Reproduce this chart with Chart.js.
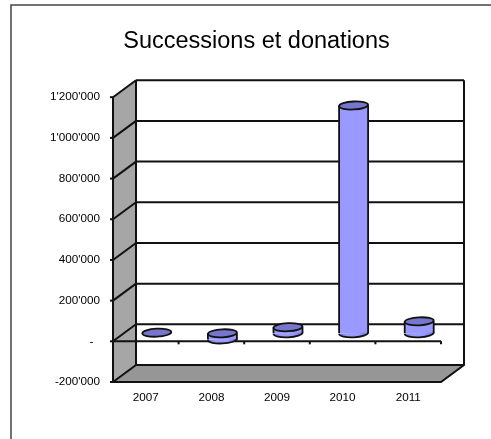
<!DOCTYPE html>
<html>
<head>
<meta charset="utf-8">
<style>
  html, body { margin: 0; padding: 0; background: #fff; }
  #wrap { width: 491px; height: 439px; }
</style>
</head>
<body>
<div id="wrap"><canvas id="chart" width="491" height="439"></canvas></div>
<script src="https://cdn.jsdelivr.net/npm/chart.js@4/dist/chart.umd.min.js"></script>
<script>
const categories = ['2007', '2008', '2009', '2010', '2011'];
const values = [3000, -30000, 30000, 1120000, 59000];
const yTicks = [-200000, 0, 200000, 400000, 600000, 800000, 1000000, 1200000];
const chartTitle = 'Successions et donations';

// depth of the fake 3D box, and half of it for the cylinders
const depthX = 23, depthY = -17;
const barX = 11, barY = -8;
const ry = 4;

function fmt(v) {
    // zero is a dash set in from the right, like the accounting format
    if (v === 0) return '-  ';
    return String(v).replace(/\B(?=(\d{3})+(?!\d))/g, "'");
}

function line(ctx, x1, y1, x2, y2) {
    ctx.beginPath();
    ctx.moveTo(x1, y1);
    ctx.lineTo(x2, y2);
    ctx.stroke();
}

// walls, floor and grid drawn behind the bars
const box3d = {
    id: 'box3d',
    beforeDatasetsDraw(chart) {
        const ctx = chart.ctx;
        const { left, right, top, bottom } = chart.chartArea;
        const y = chart.scales.y;
        ctx.save();
        // outer frame
        ctx.strokeStyle = '#444';
        ctx.lineWidth = 1.5;
        ctx.beginPath();
        ctx.moveTo(11, 439);
        ctx.lineTo(11, 5);
        ctx.lineTo(491, 5);
        ctx.stroke();
        // side wall
        ctx.fillStyle = '#a6a6a6';
        ctx.beginPath();
        ctx.moveTo(left, top);
        ctx.lineTo(left + depthX, top + depthY);
        ctx.lineTo(left + depthX, bottom + depthY);
        ctx.lineTo(left, bottom);
        ctx.closePath();
        ctx.fill();
        // floor
        ctx.fillStyle = '#969696';
        ctx.beginPath();
        ctx.moveTo(left, bottom);
        ctx.lineTo(right, bottom);
        ctx.lineTo(right + depthX, bottom + depthY);
        ctx.lineTo(left + depthX, bottom + depthY);
        ctx.closePath();
        ctx.fill();
        ctx.strokeStyle = '#111';
        ctx.lineWidth = 2;
        // grid on back wall and side wall
        yTicks.forEach(t => {
            const py = y.getPixelForValue(t);
            line(ctx, left - 3, py, left, py);
            line(ctx, left, py, left + depthX, py + depthY);
            line(ctx, left + depthX, py + depthY, right + depthX, py + depthY);
        });
        // box outline
        ctx.beginPath();
        ctx.moveTo(left, top);
        ctx.lineTo(left, bottom);
        ctx.lineTo(right, bottom);
        ctx.lineTo(right + depthX, bottom + depthY);
        ctx.lineTo(right + depthX, top + depthY);
        ctx.stroke();
        line(ctx, left + depthX, top + depthY, left + depthX, bottom + depthY);
        // category axis at zero
        const zero = y.getPixelForValue(0);
        line(ctx, left, zero, right, zero);
        categories.forEach((c, i) => {
            const px = left + (right - left) * (i + 1) / categories.length;
            line(ctx, px, zero, px, zero + 3);
        });
        ctx.restore();
    },
    beforeDatasetDraw(chart) {
        chart.ctx.save();
        chart.ctx.translate(barX, barY);
    },
    afterDatasetDraw(chart) {
        const ctx = chart.ctx;
        // round ends of the cylinders
        chart.getDatasetMeta(0).data.forEach(bar => {
            const rx = bar.width / 2;
            const low = Math.max(bar.y, bar.base);
            const high = Math.min(bar.y, bar.base);
            const tilt = -0.05;
            ctx.lineWidth = 1.8;
            ctx.strokeStyle = '#111';
            if (low - high > 1.5) {
                ctx.fillStyle = cylinderFill(ctx, bar);
                ctx.beginPath();
                ctx.ellipse(bar.x, low, rx, ry, tilt, 0, Math.PI);
                ctx.fill();
                ctx.stroke();
                line(ctx, bar.x - rx, high, bar.x - rx, low);
                line(ctx, bar.x + rx, high, bar.x + rx, low);
            }
            ctx.fillStyle = '#7676cc';
            ctx.beginPath();
            ctx.ellipse(bar.x, high, rx, ry, tilt, 0, Math.PI * 2);
            ctx.fill();
            ctx.stroke();
        });
        ctx.restore();
    }
};

function cylinderFill(ctx, bar) {
    const g = ctx.createLinearGradient(bar.x - bar.width / 2, 0, bar.x + bar.width / 2, 0);
    g.addColorStop(0, '#7c7cd8');
    g.addColorStop(0.3, '#9c9cff');
    g.addColorStop(0.7, '#9999ff');
    g.addColorStop(1, '#6e6ec4');
    return g;
}

new Chart(document.getElementById('chart').getContext('2d'), {
    type: 'bar',
    plugins: [box3d],
    data: {
        labels: categories,
        datasets: [{
            data: values,
            yAxisID: 'y',
            barThickness: 29,
            borderWidth: 0,
            backgroundColor: c => {
                const el = c.chart.getDatasetMeta(0).data[c.dataIndex];
                return el && el.width ? cylinderFill(c.chart.ctx, el) : '#9999ff';
            }
        }]
    },
    options: {
        responsive: false,
        animation: false,
        layout: { padding: { left: 22, right: 0, top: 0, bottom: 0 } },
        plugins: {
            legend: { display: false },
            tooltip: { enabled: false },
            title: {
                display: true,
                text: chartTitle,
                color: '#000',
                font: { family: 'Liberation Sans', size: 23.5, weight: 'normal' },
                padding: { top: 27, bottom: 42 }
            }
        },
        scales: {
            x: {
                afterFit: s => { s.height = 57; },
                grid: { display: false, drawTicks: false },
                border: { display: false },
                ticks: {
                    color: '#000',
                    padding: 9,
                    maxRotation: 0,
                    font: { family: 'Liberation Sans', size: 11.7 }
                }
            },
            y: {
                afterFit: s => { s.width = 91; },
                min: -200000,
                max: 1200000,
                afterBuildTicks: s => { s.ticks = yTicks.map(v => ({ value: v })); },
                grid: { display: false, drawTicks: false },
                border: { display: false },
                ticks: {
                    color: '#000',
                    padding: 13,
                    font: { family: 'Liberation Sans', size: 11.7 },
                    callback: v => fmt(v)
                }
            },
            // empty axis, only keeps the plot clear of the right edge for the 3D depth
            spacer: {
                type: 'linear',
                axis: 'y',
                position: 'right',
                afterFit: s => { s.width = 50; },
                grid: { display: false, drawTicks: false },
                border: { display: false },
                ticks: { display: false }
            }
        }
    }
});
</script>
</body>
</html>
